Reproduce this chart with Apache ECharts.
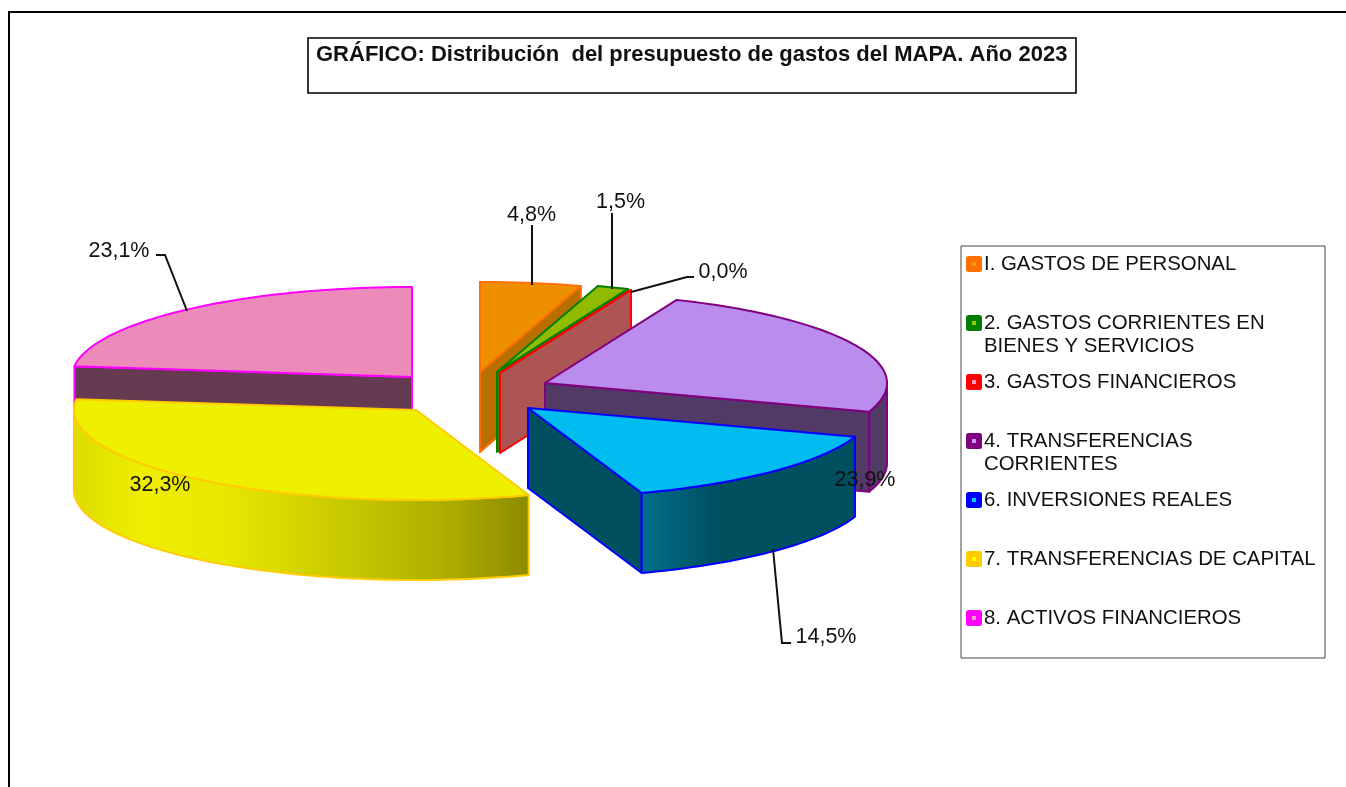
<!DOCTYPE html>
<html><head><meta charset="utf-8">
<style>html,body{margin:0;padding:0;background:#fff;overflow:hidden}#c{width:1346px;height:787px}</style>
<script src="https://cdn.jsdelivr.net/npm/echarts@6/dist/echarts.min.js"></script>
</head><body><div id="c"></div>
<script>
// ---- data ----
var titleText = 'GRÁFICO: Distribución  del presupuesto de gastos del MAPA. Año 2023';
var categories = ['I. GASTOS DE PERSONAL','2. GASTOS CORRIENTES EN\nBIENES Y SERVICIOS','3. GASTOS FINANCIEROS','4. TRANSFERENCIAS\nCORRIENTES','6. INVERSIONES REALES','7. TRANSFERENCIAS DE CAPITAL','8. ACTIVOS FINANCIEROS'];
var values = [4.8, 1.5, 0.0, 23.9, 14.5, 32.3, 23.1];

// ---- layout / style ----
var RY = 90, DEPTH = 80;
var radiusX = [340, 340, 340, 342, 345, 342, 340];
var apexX = [480, 497, 500, 545, 528, 416, 412];
var apexY = [372, 372, 373, 383, 408, 410, 377];
var drawOrder = [6, 5, 0, 1, 2, 3, 4];
var topFill = ['#ee8f00', '#8fbc00', '#ff0000', '#b98cee', '#00bcf0', '#efef00', '#ec8aba'];
var wallFill = ['#b86f00', '#4f7000', '#ad5555', '#513a66', '#00505f', '#8b8b00', '#663a50'];
var edge = ['#ff7000', '#008000', '#ff0000', '#800080', '#0000ff', '#ffcc00', '#ff00ff'];
var dot = ['#ff9900', '#99cc00', '#ff99cc', '#cc99ff', '#00ccff', '#ffff00', '#ff99cc'];
var labelX = [531.5, 620.5, 723, 865, 826, 160, 119];
var labelY = [215, 202, 272, 480, 637, 485, 251];
var leaders = [
  [[532, 225], [532, 285]],
  [[612, 213], [612, 289]],
  [[631, 292], [687, 277], [694, 277]],
  null,
  [[773, 549], [782, 643], [791, 643]],
  null,
  [[156, 255], [165, 255], [187, 311]]
];
var FONT = '"Liberation Sans", Arial, sans-serif';

var total = values.reduce(function (a, b) { return a + b; }, 0);
var startDeg = [], endDeg = [];
(function () { var c = 0; values.forEach(function (v, i) { startDeg[i] = c / total * 360; c += v; endDeg[i] = c / total * 360; }); })();

function pt(i, deg, dy) {
  var r = deg * Math.PI / 180;
  return [apexX[i] + radiusX[i] * Math.sin(r), apexY[i] - RY * Math.cos(r) + (dy || 0)];
}
function arc(i, a, b, dy) {
  var n = Math.max(1, Math.ceil((b - a) / 1.5)), out = [];
  for (var k = 0; k <= n; k++) out.push(pt(i, a + (b - a) * k / n, dy));
  return out;
}
function radialWall(i, deg) {
  return [[apexX[i], apexY[i]], pt(i, deg), pt(i, deg, DEPTH), [apexX[i], apexY[i] + DEPTH]];
}
function wallGradient(i) {
  if (i === 5) return new echarts.graphic.LinearGradient(0, 0, 1, 0, [
    { offset: 0, color: '#dcdc00' }, { offset: 0.15, color: '#eeee00' }, { offset: 0.33, color: '#e8e800' },
    { offset: 0.6, color: '#c8c800' }, { offset: 0.8, color: '#b0b000' }, { offset: 1, color: '#8b8b00' }]);
  if (i === 4) return new echarts.graphic.LinearGradient(0, 0, 1, 0, [
    { offset: 0, color: '#006f8c' }, { offset: 0.35, color: '#00505f' }, { offset: 1, color: '#00505f' }]);
  return wallFill[i];
}

function renderSlice(params, api) {
  var i = api.value(0), a = startDeg[i], b = endDeg[i], base = 10 * (params.dataIndex + 1), kids = [];
  var line = { stroke: edge[i], lineWidth: 2, lineJoin: 'round' };
  function poly(points, fill, z) {
    kids.push({ type: 'polygon', z2: base + z, shape: { points: points }, style: Object.assign({ fill: fill }, line) });
  }
  if (a >= 180 || a === 0) poly(radialWall(i, a), wallFill[i], 0);
  if (b < 180 || b === 360) poly(radialWall(i, b), wallFill[i], 1);
  var wa = Math.max(a, 90), wb = Math.min(b, 270);
  if (wb > wa) poly(arc(i, wa, wb).concat(arc(i, wa, wb, DEPTH).reverse()), wallGradient(i), 2);
  poly([[apexX[i], apexY[i]]].concat(arc(i, a, b)), topFill[i], 3);
  if (leaders[i]) kids.push({ type: 'polyline', z2: 200, shape: { points: leaders[i] }, style: { stroke: '#111', lineWidth: 2, fill: null } });
  kids.push({ type: 'text', z2: 210, x: labelX[i], y: labelY[i], style: {
    text: api.value(1).toFixed(1).replace('.', ',') + '%', fill: '#111', fontSize: 21.5, fontFamily: FONT, align: 'center', verticalAlign: 'middle' } });
  return { type: 'group', children: kids };
}

var graphics = [
  { type: 'rect', z: 1, shape: { x: 9, y: 12, width: 1400, height: 900 }, style: { fill: '#fff', stroke: '#000', lineWidth: 2 } },
  { type: 'rect', z: 1, shape: { x: 308, y: 38, width: 768, height: 55 }, style: { fill: '#fff', stroke: '#000', lineWidth: 1.6 } },
  { type: 'text', z: 2, x: 316, y: 55, style: { text: titleText, fill: '#111', fontSize: 22, fontWeight: 'bold', fontFamily: FONT, align: 'left', verticalAlign: 'middle' } },
  { type: 'rect', z: 1, shape: { x: 961, y: 246, width: 364, height: 412 }, style: { fill: '#fff', stroke: '#444', lineWidth: 1 } }
];
categories.forEach(function (name, i) {
  var y = 264 + 59 * i;
  graphics.push({ type: 'rect', z: 2, shape: { x: 966, y: y - 8, width: 16, height: 16, r: 2.5 }, style: { fill: edge[i] } });
  graphics.push({ type: 'rect', z: 3, shape: { x: 972, y: y - 2, width: 4, height: 4 }, style: { fill: dot[i] } });
  graphics.push({ type: 'text', z: 3, x: 984, y: y - 11, style: { text: name, fill: '#111', fontSize: 20.4, fontFamily: FONT, lineHeight: 23, align: 'left', verticalAlign: 'top' } });
});

var chart = echarts.init(document.getElementById('c'), null, { renderer: 'canvas' });
chart.setOption({
  animation: false,
  backgroundColor: '#fff',
  graphic: { elements: graphics },
  series: [{
    type: 'custom',
    coordinateSystem: 'none',
    z: 5,
    silent: true,
    clip: false,
    renderItem: renderSlice,
    encode: { value: 1 },
    data: drawOrder.map(function (i) { return [i, values[i]]; })
  }]
});
</script></body></html>
